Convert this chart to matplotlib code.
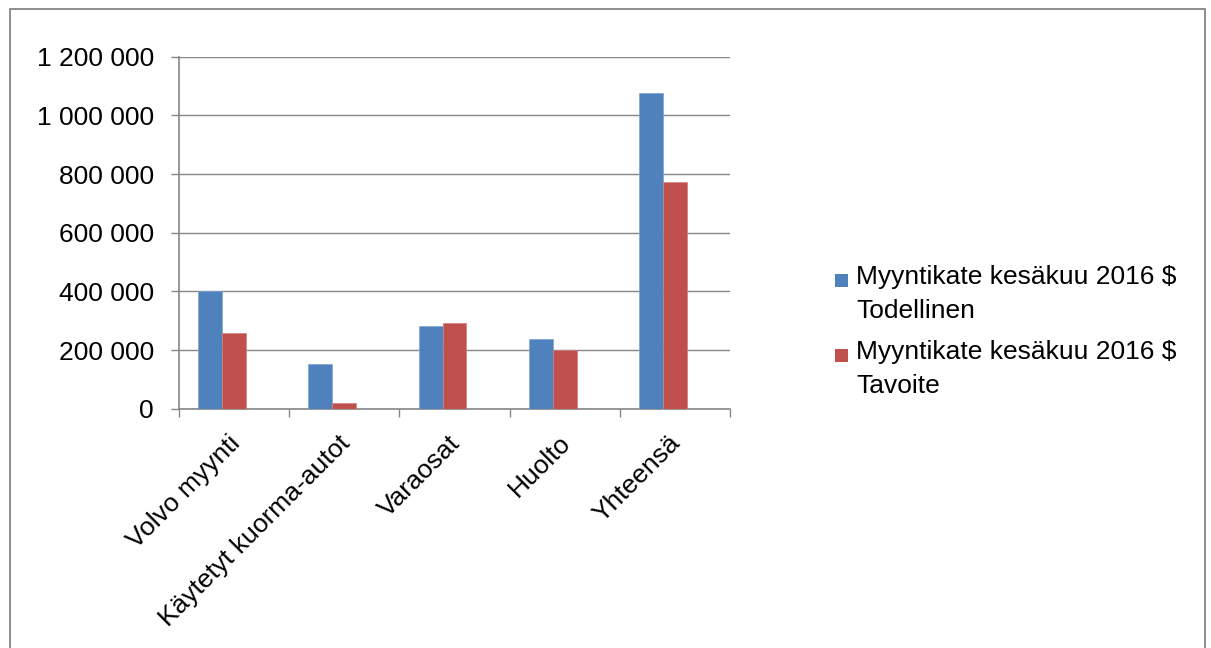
import matplotlib
matplotlib.use("Agg")
import matplotlib.pyplot as plt
from matplotlib.patches import Rectangle
import numpy as np

categories = ["Volvo myynti", "Käytetyt kuorma-autot", "Varaosat", "Huolto", "Yhteensä"]
todellinen = [402000, 152000, 282000, 239000, 1075000]
tavoite = [257000, 21000, 293000, 201000, 772000]
series_names = ["Myyntikate kesäkuu 2016 $\nTodellinen", "Myyntikate kesäkuu 2016 $\nTavoite"]
yticks = [0, 200000, 400000, 600000, 800000, 1000000, 1200000]

BLUE = "#4F81BD"
RED = "#C0504D"
GRID = "#868686"

plt.rcParams["font.family"] = ["Liberation Sans", "DejaVu Sans"]

W, H = 1211, 648
fig = plt.figure(figsize=(W / 100, H / 100), dpi=100)
ax = fig.add_axes([179 / W, 1 - 408.7 / H, (730 - 179) / W, (408.7 - 56.7) / H])

x = np.arange(len(categories))
w = 24 / 110.3
ax.bar(x - w, todellinen, width=w, color=BLUE, edgecolor="#7fa3d0", linewidth=0.5, zorder=3)
ax.bar(x, tavoite, width=w, color=RED, edgecolor="#d07f7d", linewidth=0.5, zorder=3)

ax.set_xlim(-0.5, len(categories) - 0.5)
ax.set_ylim(0, 1200000)
ax.set_yticks(yticks)
ax.set_yticklabels([f"{v:,}".replace(",", " ") for v in yticks], fontsize=19)
ax.yaxis.grid(True, color=GRID, linewidth=1.0, zorder=0)
ax.set_axisbelow(True)

ax.set_xticks(np.arange(len(categories) + 1) - 0.5, minor=False)
ax.set_xticklabels([])
# label anchors nudged slightly left of the category centres (as in the reference)
ax.set_xticks(x - 0.06, minor=True)
ax.set_xticklabels(categories, minor=True, rotation=45, ha="right", va="top",
                   rotation_mode="anchor", fontsize=19)
ax.tick_params(axis="x", which="major", length=6, width=1.0, color=GRID, direction="out")
ax.tick_params(axis="x", which="minor", length=0, pad=16)
ax.tick_params(axis="y", length=6, width=1.0, color=GRID, direction="out", pad=12)

for s in ["top", "right"]:
    ax.spines[s].set_visible(False)
for s in ["left", "bottom"]:
    ax.spines[s].set_color(GRID)
    ax.spines[s].set_linewidth(1.2)

# Legend drawn manually
leg_items = [(BLUE, series_names[0], 280), (RED, series_names[1], 355)]
for color, label, ycen in leg_items:
    fig.patches.append(Rectangle((835 / W, 1 - (ycen + 6.5) / H), 13 / W, 13 / H,
                                 transform=fig.transFigure, facecolor=color, edgecolor="none"))
    fig.text(856 / W, 1 - (ycen - 15) / H, label, fontsize=19, ha="left", va="top",
             linespacing=1.55)

# outer border
fig.patches.append(Rectangle((10 / W, -0.01), (1205 - 10) / W, 1 - 9 / H + 0.01,
                             transform=fig.transFigure, facecolor="none",
                             edgecolor=GRID, linewidth=1.3))

fig.savefig("out.png", dpi=100)
